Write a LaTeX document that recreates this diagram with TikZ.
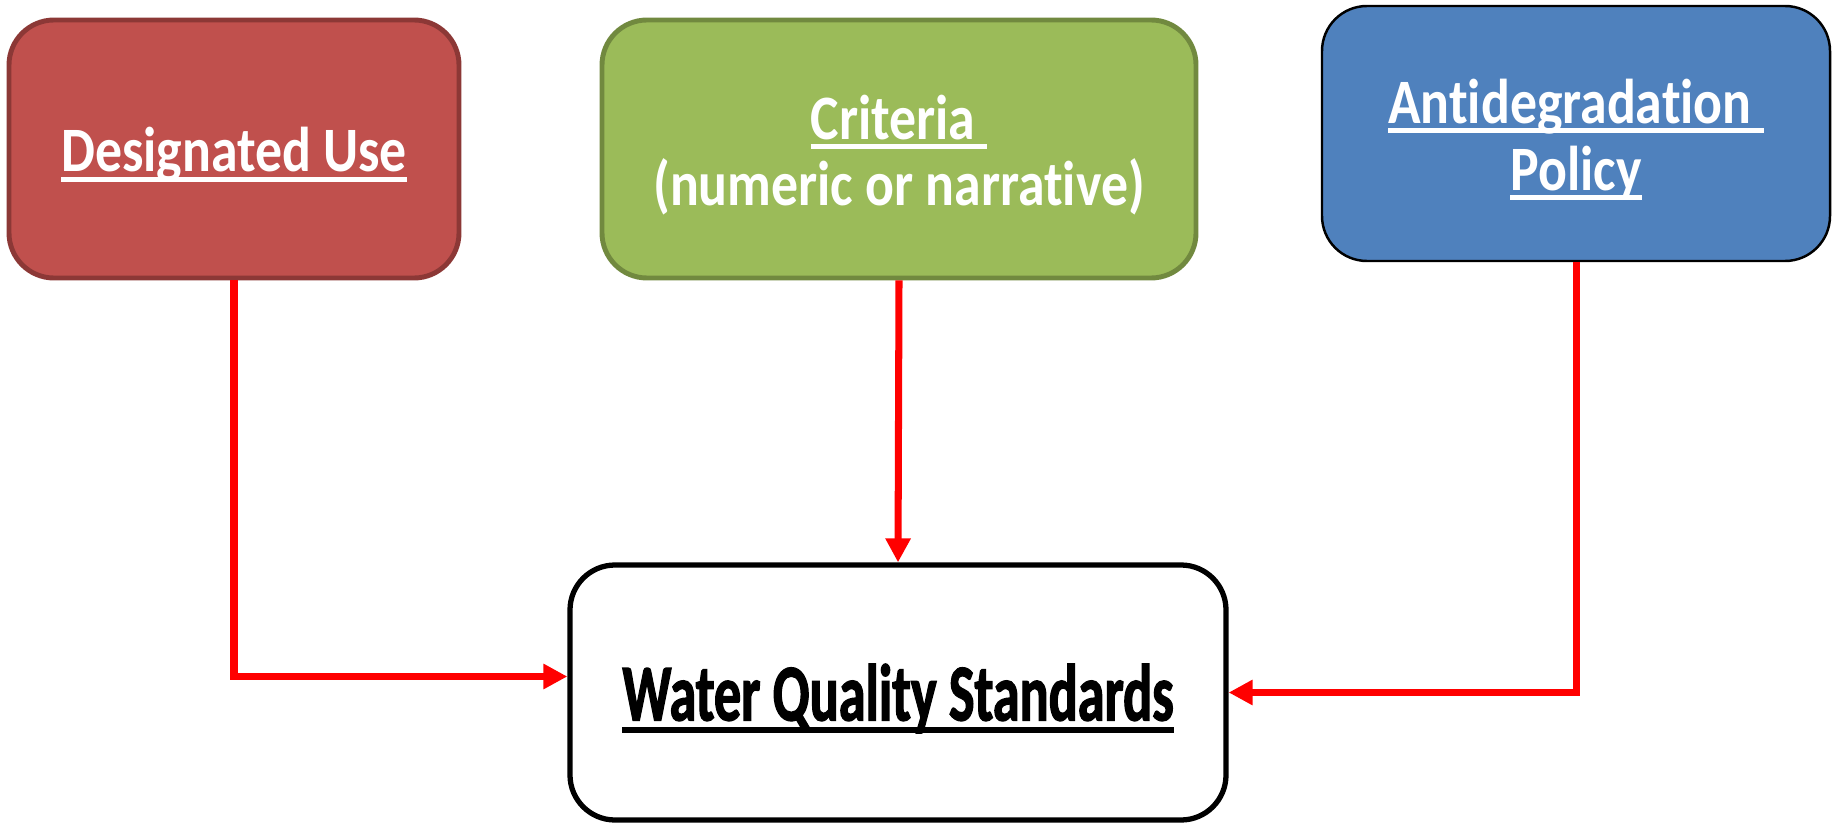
\documentclass[tikz,border=0pt]{standalone}
\usepackage{fontspec}
\setmainfont{Carlito}[FakeStretch=0.85,Ligatures={NoCommon,NoContextual}]
\newfontfamily\heavyfont{Carlito}[FakeStretch=0.67,FakeBold=1.5,Ligatures={NoCommon,NoContextual}]
\usetikzlibrary{arrows.meta}
\definecolor{usefill}{HTML}{C0504D}
\definecolor{useline}{HTML}{8C3836}
\definecolor{critfill}{HTML}{9BBB59}
\definecolor{critline}{HTML}{71893F}
\definecolor{polfill}{HTML}{4F81BD}
\newcommand{\low}[1]{\raisebox{-0.6mm}[\height][\depth]{#1}}
\newcommand{\ulbox}[1]{\setbox0\hbox{#1}\low{\rlap{\smash{\rule[-0.16em]{\wd0}{0.08em}}}\box0}}
\begin{document}
\begin{tikzpicture}
    [
    box/.style={rectangle,rounded corners=4.5mm,line width=1.4pt,minimum height=25.8mm,align=center,text=white,font=\bfseries\fontsize{18}{19}\selectfont},
    link/.style={red,line width=2pt,-{Triangle[length=2.4mm,width=2.4mm]}}
    ]
    \useasboundingbox (0,0) rectangle (18.33,8.22);
    \node (use) at (2.34,6.73) [box,fill=usefill,draw=useline,minimum width=45mm] {\ulbox{Designated Use}};
    \node (crit) at (8.99,6.73) [box,fill=critfill,draw=critline,minimum width=59.4mm] {\ulbox{Criteria\ }\\\low{(numeric or narrative)}};
    \node (pol) at (15.76,6.885) [box,fill=polfill,draw=black,line width=0.7pt,minimum width=50.8mm,minimum height=25.5mm] {\ulbox{Antidegradation\ }\\\ulbox{Policy}};
    \node (wqs) at (8.98,1.295) [box,fill=white,draw=black,line width=1.5pt,minimum width=65.6mm,minimum height=25.5mm,text=black,font=\heavyfont\bfseries\fontsize{23}{26}\selectfont] {\ulbox{Water Quality Standards}};
    \draw [link] (use.south) |- ([yshift=1.6mm]wqs.west);
    \draw [link] (crit.south) -- (wqs.north);
    \draw [link] (pol.south) |- (wqs.east);
  \end{tikzpicture}
\end{document}
